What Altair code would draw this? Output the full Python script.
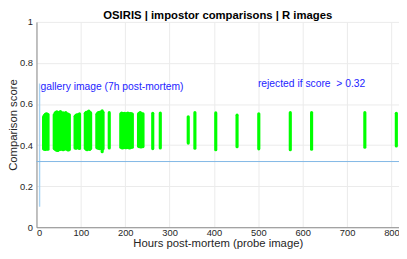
import altair as alt
import pandas as pd

# ---- data ----
hours = [16, 18, 20, 22, 24, 26,
         40, 42, 44, 46, 48, 50, 52, 54, 56, 58, 60, 62, 64, 66, 68, 70, 72, 74,
         87, 89, 91, 93, 95, 97,
         110, 112, 114, 116, 118, 120, 122,
         136, 138, 140, 142, 144, 146, 148, 150,
         164,
         190, 192, 194, 196, 198, 200, 202, 204, 206, 208, 210, 212, 214, 216,
         230, 232, 234, 236, 238, 240,
         262, 279,
         342, 357, 404, 452, 501, 572, 620, 740, 811]
score_lo = [0.382, 0.380, 0.379, 0.381, 0.382, 0.380,
            0.384, 0.380, 0.377, 0.375, 0.374, 0.377, 0.379, 0.381, 0.380, 0.382, 0.378, 0.380, 0.383, 0.381, 0.384, 0.378, 0.376, 0.379,
            0.386, 0.385, 0.387, 0.389, 0.386, 0.384,
            0.385, 0.380, 0.378, 0.383, 0.381, 0.379, 0.384,
            0.388, 0.386, 0.385, 0.383, 0.387, 0.384, 0.368, 0.382,
            0.386,
            0.390, 0.388, 0.386, 0.389, 0.391, 0.388, 0.387, 0.389, 0.390, 0.388, 0.386, 0.389, 0.391, 0.390,
            0.394, 0.392, 0.393, 0.391, 0.395, 0.393,
            0.383, 0.386,
            0.410, 0.385, 0.378, 0.392, 0.382, 0.378, 0.380, 0.390, 0.396]
score_hi = [0.538, 0.545, 0.550, 0.553, 0.551, 0.549,
            0.548, 0.556, 0.560, 0.562, 0.558, 0.556, 0.560, 0.563, 0.559, 0.554, 0.557, 0.552, 0.555, 0.558, 0.550, 0.552, 0.549, 0.548,
            0.540, 0.545, 0.548, 0.546, 0.549, 0.552,
            0.555, 0.560, 0.558, 0.562, 0.566, 0.560, 0.557,
            0.550, 0.556, 0.558, 0.560, 0.555, 0.562, 0.567, 0.560,
            0.558,
            0.553, 0.556, 0.554, 0.552, 0.555, 0.553, 0.551, 0.554, 0.556, 0.553, 0.552, 0.554, 0.553, 0.551,
            0.552, 0.556, 0.558, 0.554, 0.551, 0.553,
            0.555, 0.556,
            0.538, 0.558, 0.557, 0.546, 0.553, 0.558, 0.559, 0.558, 0.555]

threshold = [0.32]
gallery_hour = [7]
gallery_lo = [0.10]
gallery_hi = [0.70]

note_x = [9, 499]
note_y = [0.683, 0.699]
note_text = ["gallery image (7h post-mortem)", "rejected if score \u00a0> 0.32"]

title_text = ["OSIRIS | impostor comparisons | R images"]

x_ticks = [0, 100, 200, 300, 400, 500, 600, 700, 800]
y_ticks = [0, 0.2, 0.4, 0.6, 0.8, 1.0]

FONT = "Liberation Sans"
W, H = 369, 209

scores = pd.DataFrame({"hours": hours, "lo": score_lo, "hi": score_hi})
gallery = pd.DataFrame({"hours": gallery_hour, "lo": gallery_lo, "hi": gallery_hi})
thr = pd.DataFrame({"t": threshold})
notes = pd.DataFrame({"x": note_x, "y": note_y, "label": note_text})
ttl = pd.DataFrame({"label": title_text})

xscale = alt.Scale(domain=[0, 817], nice=False, zero=False)
yscale = alt.Scale(domain=[0, 1], nice=False)

xaxis = alt.Axis(values=x_ticks, title="Hours post-mortem (probe image)",
                 titleY=20, titleBaseline="alphabetic", labelPadding=0,
                 format="d")
yaxis = alt.Axis(values=y_ticks, title="Comparison score", format=".1~f",
                 titleX=-20, titleBaseline="alphabetic", labelPadding=4)

bars = alt.Chart(scores).mark_rule(
    color="#00ff00", strokeWidth=3.2, strokeCap="round"
).encode(
    x=alt.X("hours:Q", scale=xscale, axis=xaxis),
    y=alt.Y("lo:Q", scale=yscale, axis=yaxis),
    y2="hi:Q",
)

gal = alt.Chart(gallery).mark_rule(color="#a8d3f3", strokeWidth=1.4).encode(
    x="hours:Q", y="lo:Q", y2="hi:Q"
)

thr_line = alt.Chart(thr).mark_rule(color="#7fb7e6", strokeWidth=1).encode(
    y="t:Q"
)

txt = alt.Chart(notes).mark_text(
    align="left", baseline="middle", color="#2424ff", fontSize=10.5, font=FONT
).encode(x="x:Q", y="y:Q", text="label:N")

title = alt.Chart(ttl).mark_text(
    align="center", baseline="alphabetic", color="#000000", fontSize=11.5,
    fontWeight="bold", font=FONT
).encode(x=alt.value(W / 2), y=alt.value(-3), text="label:N")

chart = alt.layer(gal, thr_line, bars, txt, title).properties(
    width=W, height=H,
    autosize=alt.AutoSizeParams(type="none"),
    padding={"left": 29, "top": 12, "right": 0, "bottom": 22},
).configure_view(stroke=None).configure_axis(
    domainColor="#8a8a8a", labelColor="#262626", titleColor="#262626",
    gridColor="#ebebeb", ticks=False, labelFont=FONT, titleFont=FONT,
    labelFontSize=9.5, titleFontSize=11.5, titleFontWeight="normal",
    domainWidth=1,
)

chart.save("out.html", embed_options={"renderer": "svg", "actions": False})
